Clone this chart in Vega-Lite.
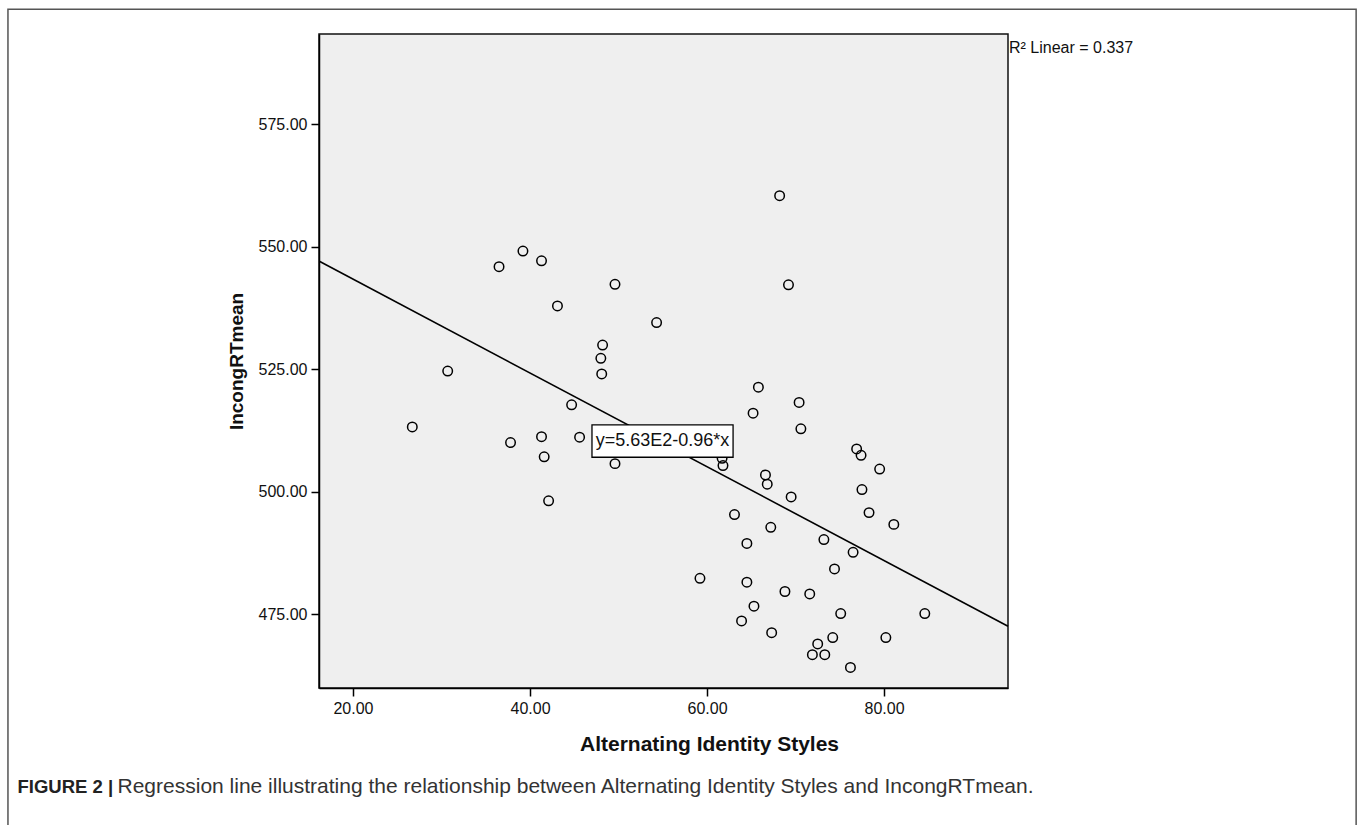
{
  "$schema": "https://vega.github.io/schema/vega-lite/v6.json",
  "width": 689,
  "height": 654,
  "autosize": {"type": "none"},
  "padding": {"left": 319, "top": 34, "right": 352, "bottom": 137},
  "background": "white",
  "config": {
    "view": {"fill": "#efefef", "stroke": "#111111", "strokeWidth": 1.5},
    "axis": {
      "grid": false,
      "domainColor": "#000000",
      "domainWidth": 1.5,
      "tickColor": "#000000",
      "tickWidth": 1.5,
      "tickSize": 8,
      "labelFont": "Liberation Sans",
      "labelFontSize": 16,
      "labelColor": "#111111",
      "labelPadding": 4,
      "titleFont": "Liberation Sans",
      "titleFontWeight": "bold",
      "titleFontSize": 19,
      "titleColor": "#111111"
    }
  },
  "datasets": {
    "points": [
      {"style": 26.7, "rt": 513.2}, {"style": 30.7, "rt": 524.6}, {"style": 36.5, "rt": 545.9},
      {"style": 37.8, "rt": 510.0}, {"style": 39.2, "rt": 549.1}, {"style": 41.3, "rt": 547.1},
      {"style": 41.3, "rt": 511.2}, {"style": 41.6, "rt": 507.1}, {"style": 42.1, "rt": 498.1},
      {"style": 43.1, "rt": 537.9}, {"style": 44.7, "rt": 517.7}, {"style": 45.6, "rt": 511.1},
      {"style": 48.2, "rt": 529.9}, {"style": 48.0, "rt": 527.2}, {"style": 48.1, "rt": 524.0},
      {"style": 49.6, "rt": 542.3}, {"style": 49.6, "rt": 505.7}, {"style": 54.3, "rt": 534.5},
      {"style": 59.2, "rt": 482.3}, {"style": 61.7, "rt": 506.8}, {"style": 61.8, "rt": 505.3},
      {"style": 63.1, "rt": 495.3}, {"style": 63.9, "rt": 473.6}, {"style": 64.5, "rt": 489.4},
      {"style": 64.5, "rt": 481.5}, {"style": 65.2, "rt": 516.0}, {"style": 65.3, "rt": 476.6},
      {"style": 65.8, "rt": 521.3}, {"style": 66.6, "rt": 503.4}, {"style": 66.8, "rt": 501.5},
      {"style": 67.2, "rt": 492.7}, {"style": 67.3, "rt": 471.2}, {"style": 68.2, "rt": 560.4},
      {"style": 68.8, "rt": 479.6}, {"style": 69.2, "rt": 542.2}, {"style": 69.5, "rt": 498.9},
      {"style": 70.4, "rt": 518.2}, {"style": 70.6, "rt": 512.8}, {"style": 71.6, "rt": 479.1},
      {"style": 71.9, "rt": 466.7}, {"style": 72.5, "rt": 468.9}, {"style": 73.2, "rt": 490.2},
      {"style": 73.3, "rt": 466.7}, {"style": 74.2, "rt": 470.2}, {"style": 74.4, "rt": 484.2},
      {"style": 75.1, "rt": 475.1}, {"style": 76.2, "rt": 464.1}, {"style": 76.5, "rt": 487.6},
      {"style": 76.9, "rt": 508.7}, {"style": 77.4, "rt": 507.4}, {"style": 77.5, "rt": 500.4},
      {"style": 78.3, "rt": 495.7}, {"style": 79.5, "rt": 504.6}, {"style": 80.2, "rt": 470.2},
      {"style": 81.1, "rt": 493.3}, {"style": 84.6, "rt": 475.1}
    ],
    "fit": [
      {"style": 16.2, "rt": 547.0},
      {"style": 94.0, "rt": 472.5}
    ],
    "eqbox": [
      {"x1": 47.0, "x2": 62.94, "y1": 513.6, "y2": 507.0, "label": "y=5.63E2-0.96*x", "xc": 54.97, "yc": 510.3}
    ],
    "frame": [
      {"x1": -18.98, "x2": 133.33, "y1": 598.47, "y2": 430.9}
    ],
    "r2": [
      {"x": 94.0, "y": 590.6, "label": "R² Linear = 0.337"}
    ],
    "caption": [
      {"x": -17.9, "y": 439.6, "bold": "FIGURE 2 |", "rest": "Regression line illustrating the relationship between Alternating Identity Styles and IncongRTmean."}
    ]
  },
  "layer": [
    {
      "data": {"name": "frame"},
      "mark": {"type": "rect", "fill": null, "stroke": "#555555", "strokeWidth": 1.5, "clip": false},
      "encoding": {
        "x": {"field": "x1", "type": "quantitative", "scale": {"domain": [16.16, 94.0], "nice": false, "zero": false}},
        "x2": {"field": "x2"},
        "y": {"field": "y1", "type": "quantitative", "scale": {"domain": [459.9, 593.4], "nice": false, "zero": false}},
        "y2": {"field": "y2"}
      }
    },
    {
      "data": {"name": "fit"},
      "mark": {"type": "line", "color": "#000000", "strokeWidth": 1.6},
      "encoding": {
        "x": {
          "field": "style", "type": "quantitative",
          "scale": {"domain": [16.16, 94.0], "nice": false, "zero": false},
          "axis": {"values": [20, 40, 60, 80], "format": ".2f", "title": "Alternating Identity Styles", "titleFontSize": 21, "titleX": 390, "titleAnchor": "middle", "titleAlign": "center", "titlePadding": 17}
        },
        "y": {
          "field": "rt", "type": "quantitative",
          "scale": {"domain": [459.9, 593.4], "nice": false, "zero": false},
          "axis": {"values": [475, 500, 525, 550, 575], "format": ".2f", "title": "IncongRTmean", "titlePadding": 12}
        }
      }
    },
    {
      "data": {"name": "points"},
      "mark": {"type": "point", "shape": "circle", "filled": false, "stroke": "#000000", "strokeWidth": 1.5, "size": 90, "opacity": 1},
      "encoding": {
        "x": {"field": "style", "type": "quantitative"},
        "y": {"field": "rt", "type": "quantitative"}
      }
    },
    {
      "data": {"name": "eqbox"},
      "mark": {"type": "rect", "fill": "#ffffff", "stroke": "#000000", "strokeWidth": 1.3},
      "encoding": {
        "x": {"field": "x1", "type": "quantitative"},
        "x2": {"field": "x2"},
        "y": {"field": "y1", "type": "quantitative"},
        "y2": {"field": "y2"}
      }
    },
    {
      "data": {"name": "eqbox"},
      "mark": {"type": "text", "font": "Liberation Sans", "fontSize": 18, "color": "#111111", "align": "center", "baseline": "middle"},
      "encoding": {
        "x": {"field": "xc", "type": "quantitative"},
        "y": {"field": "yc", "type": "quantitative"},
        "text": {"field": "label"}
      }
    },
    {
      "data": {"name": "r2"},
      "mark": {"type": "text", "font": "Liberation Sans", "fontSize": 16, "color": "#111111", "align": "left", "baseline": "middle", "dx": 1, "clip": false},
      "encoding": {
        "x": {"field": "x", "type": "quantitative"},
        "y": {"field": "y", "type": "quantitative"},
        "text": {"field": "label"}
      }
    },
    {
      "data": {"name": "caption"},
      "mark": {"type": "text", "font": "Liberation Sans", "fontWeight": "bold", "fontSize": 18.5, "color": "#222222", "align": "left", "baseline": "middle"},
      "encoding": {
        "x": {"field": "x", "type": "quantitative"},
        "y": {"field": "y", "type": "quantitative"},
        "text": {"field": "bold"}
      }
    },
    {
      "data": {"name": "caption"},
      "mark": {"type": "text", "font": "Liberation Sans", "fontSize": 21, "color": "#333333", "align": "left", "baseline": "middle", "dx": 100},
      "encoding": {
        "x": {"field": "x", "type": "quantitative"},
        "y": {"field": "y", "type": "quantitative"},
        "text": {"field": "rest"}
      }
    }
  ]
}
